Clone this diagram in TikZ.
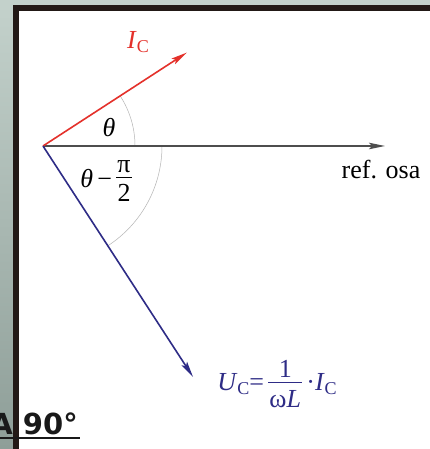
\documentclass[tikz,border=0pt]{standalone}
\usepackage{fontspec}
\setmainfont{Liberation Serif}
\newfontfamily\boldsans{DejaVu Sans}
\usetikzlibrary{arrows.meta}
\definecolor{redv}{HTML}{E4312B}
\definecolor{bluev}{HTML}{2E2C86}
\definecolor{refgray}{HTML}{4E4E4E}
\definecolor{arcgray}{HTML}{B4B4B4}
\definecolor{framec}{HTML}{221916}
\definecolor{bgtop}{HTML}{C3D1CB}
\definecolor{bgbot}{HTML}{8E9E98}
\newcommand{\subC}{\raisebox{-4.5pt}{\fontsize{18}{18}\selectfont C}}
\newcommand{\vfrac}[2]{\ensuremath{\vcenter{\offinterlineskip\halign{\hfil##\hfil\cr
  \kern1pt#1\kern1pt\cr\noalign{\kern4.5pt\hrule height 0.9pt\kern7pt}
  \kern1pt#2\kern1pt\cr}}}}
\begin{document}
\begin{tikzpicture}[x=1pt,y=1pt,
  vec/.style={line width=1.6pt,-{Stealth[length=16pt,width=6.5pt,inset=3pt]}},
  lbl/.style={inner sep=0pt,font=\fontsize{26}{29}\selectfont},
  anglearc/.style={draw=arcgray,line width=0.5pt}]
\useasboundingbox (0,0) rectangle (430,449);
\fill[white] (0,0) rectangle (430,449);
\fill[bgtop] (0,444) rectangle (430,449);
\shade[top color=bgtop,bottom color=bgbot] (0,0) rectangle (13,444);
\fill[framec] (13,0) rectangle (19,444);
\fill[framec] (13,438) rectangle (430,444);
% points
\coordinate (O) at (43,303);
\coordinate (R) at (385,303);
\coordinate (I) at ([shift={(33:171.5)}]O);
\coordinate (U) at ([shift={(-57:275.5)}]O);
% arcs
\draw[anglearc] ([shift={(0:92)}]O) arc[start angle=0,end angle=33,radius=92];
\draw[anglearc] ([shift={(0:119)}]O) arc[start angle=0,end angle=-57,radius=119];
% vectors
\draw[vec,refgray] (O) -- (R);
\draw[vec,redv] (O) -- (I);
\draw[vec,bluev] (O) -- (U);
% labels
\node[lbl,text=redv] (IC) at (138,407) {\textit{I}\subC};
\node[lbl] (th) at (109,321) {\textit{θ}};
\node[lbl] (thp) at (106,268) {\textit{θ}\,−\,\vfrac{π}{2}};
\node[lbl] (ref) at (381,279) {ref. osa};
\node[lbl,text=bluev] (UC) at (277,65) {\textit{U}\subC=\,\vfrac{1}{ω\textit{L}}\,·\textit{I}\subC};
% bottom heading
\node[inner sep=0pt,anchor=base east,font=\boldsans\bfseries\fontsize{29}{32}\selectfont,text=black!90] (ang) at (78,14) {A 90°};
\draw[black!90,line width=2pt] (0,11) -- (80,11);
\end{tikzpicture}
\end{document}
